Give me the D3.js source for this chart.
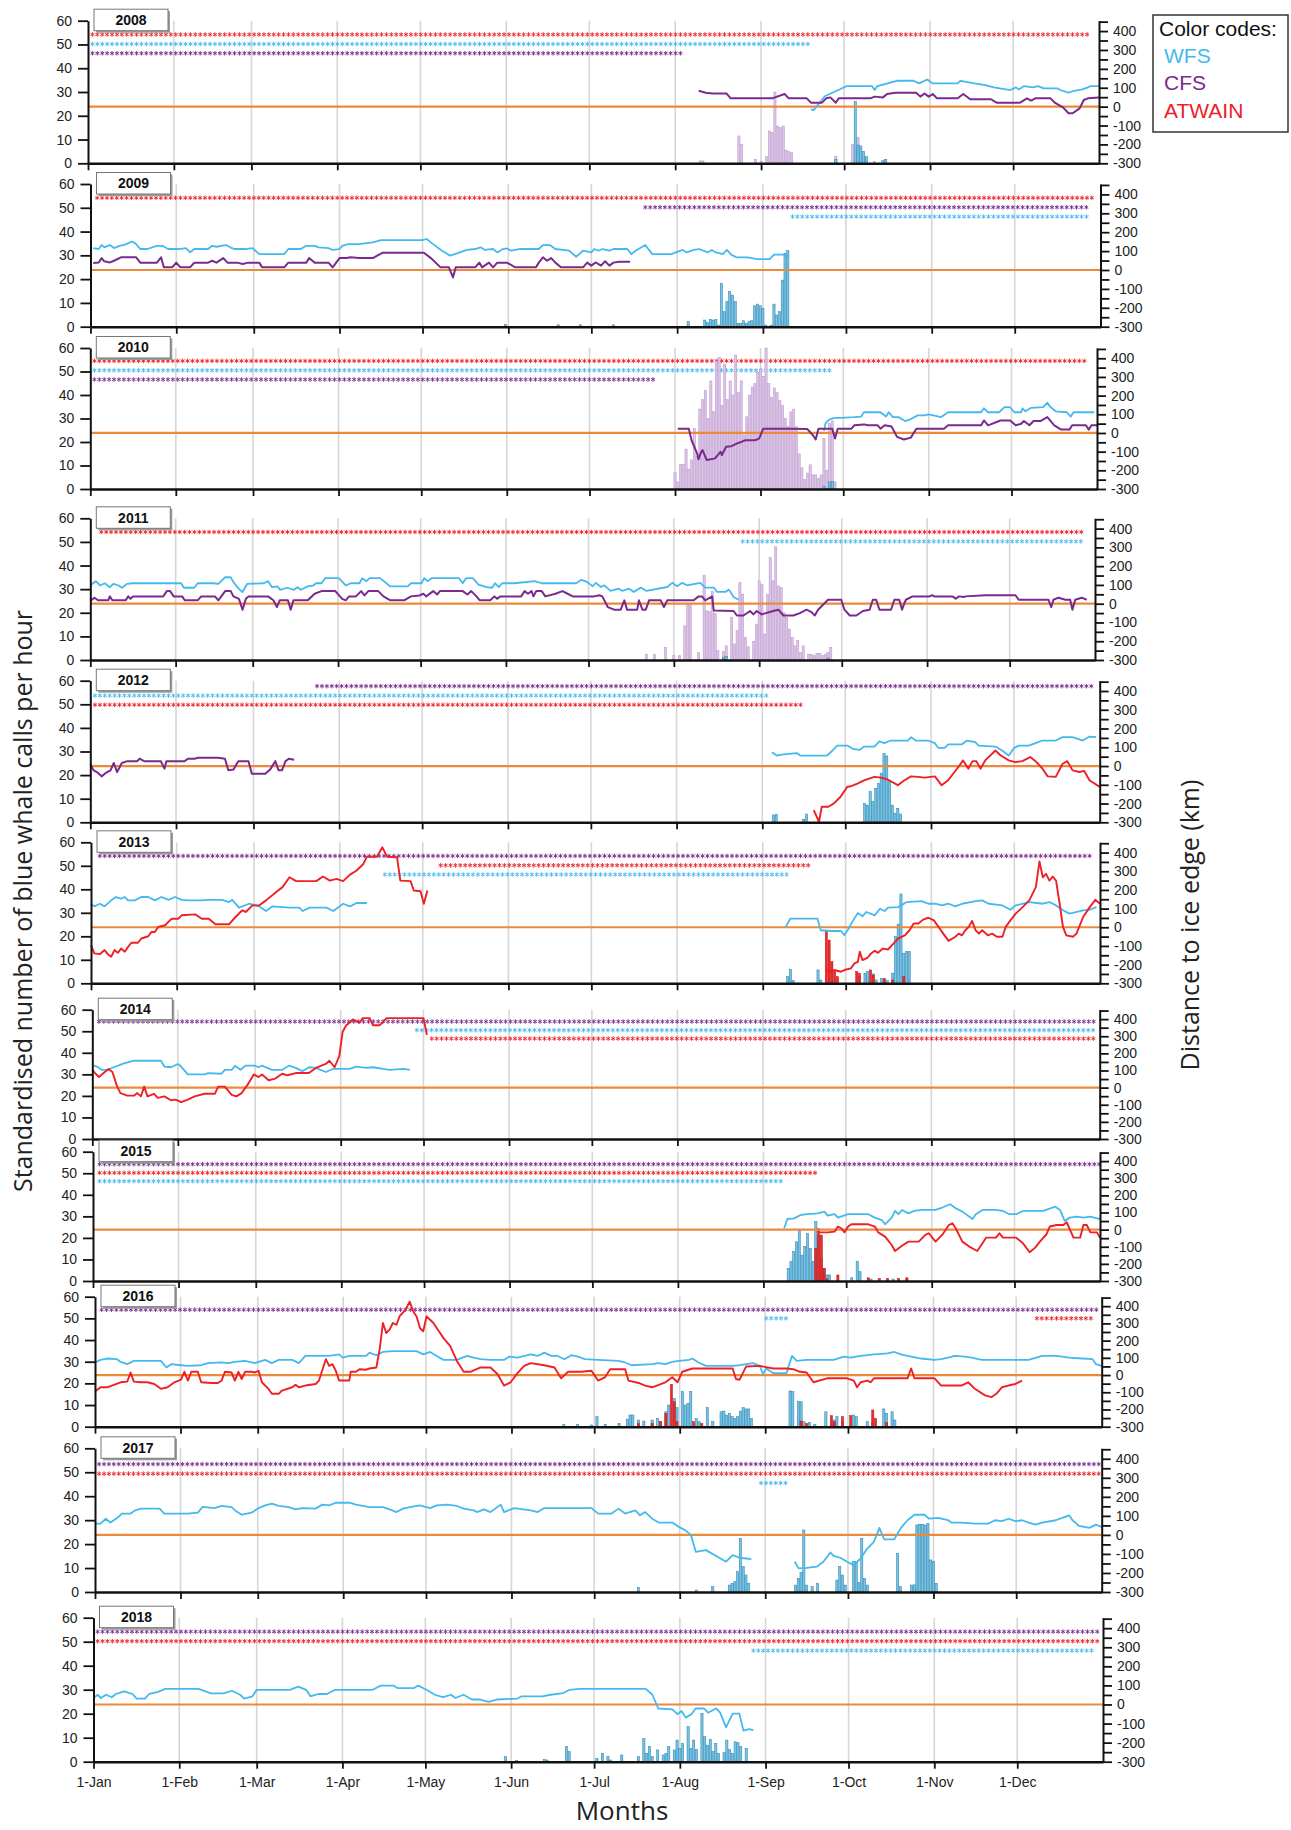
<!DOCTYPE html>
<html>
<head>
<meta charset="utf-8">
<script src="https://cdn.jsdelivr.net/npm/d3@7"></script>
<style>
  body { margin: 0; background: #fff; }
  svg { display: block; font-family: "Liberation Sans", Arial, sans-serif; }
</style>
</head>
<body>
<svg id="chart" width="1291" height="1830"></svg>
<script>
// ---- data (day of year, km to ice edge) / (day of year, calls per hour) ----
var monthStarts = [0, 31, 59, 90, 120, 151, 181, 212, 243, 273, 304, 334];
var monthLabels = ["1-Jan","1-Feb","1-Mar","1-Apr","1-May","1-Jun","1-Jul","1-Aug","1-Sep","1-Oct","1-Nov","1-Dec"];
var leftTicks = [0, 10, 20, 30, 40, 50, 60];
var rightTicks = [-300,-250,-200,-150,-100,-50,0,50,100,150,200,250,300,350,400,450];
var years = ["2008","2009","2010","2011","2012","2013","2014","2015","2016","2017","2018"];

// 2008
var wfs2008 = [[261,-15],[262,-18],[266,55],[274,109],[283,109],[284,88],[285,109],[292,137],[298,137],[300,123],[303,144],[305,123],[314,123],[315,137],[320,123],[324,114],[327,102],[333,88],[335,102],[336,91],[338,109],[341,102],[343,109],[345,97],[350,97],[351,88],[354,74],[356,84],[359,91],[361,102],[362,109],[365,109]];
var cfs2008 = [[220.5,84],[223,74],[225.5,70],[230.5,70],[232,44],[247,44],[251.5,67],[253,44],[259.5,44],[261,21],[265,21],[266.5,44],[268,49],[270,21],[271,44],[282.5,44],[284,53],[287,49],[288.5,67],[291.5,74],[299,74],[300.5,53],[302,70],[303.5,53],[305,67],[306.5,44],[314,44],[316,67],[318.5,39],[326,39],[328,21],[336.5,21],[339,44],[340.5,32],[342,44],[347.5,44],[349,21],[352,-4],[354,-35],[355.5,-35],[358,-9],[359.5,35],[361,44],[365,49]];
var barsCfs2008 = [[221,1],[222,1],[235,11.5],[236,8],[241,1.7],[243,0.7],[245,2.8],[246,13.6],[247,13],[248,30],[249,15.7],[250,15],[251,15.7],[252,5.6],[253,4.9],[254,4.5],[270,3],[276,8],[278,11],[280,2.5],[281,1],[284,0.7]];
var barsWfs2008 = [[270,1.7],[277,26],[278,7.7],[279,7.3],[280,5],[281,2.8],[287,1.1],[288,1.7]];
var stars2008 = [["ATWAIN",1.6,361.6,0],["WFS",1.6,260.8,1],["CFS",1.6,215.5,2]];

// 2009
var wfs2009 = [[1,116],[3,111],[4,132],[5,120],[7,132],[8.5,116],[10.5,128],[12.5,134],[15,151],[16.5,137],[18,111],[20.5,111],[24,128],[26,128],[28,111],[32,111],[34.5,116],[36,93],[37.5,111],[42.5,111],[44,128],[45.5,123],[49,132],[50.5,120],[52,111],[56,111],[58.5,116],[61,84],[70,84],[71.5,111],[76,111],[78,128],[81,128],[82.5,120],[86,116],[87.5,106],[90,111],[91,128],[93,137],[97,137],[102,146],[105,158],[120,158],[121.5,164],[123,146],[127,102],[130,76],[132.5,88],[136,106],[139,111],[141,120],[142.5,106],[145.5,111],[147,93],[149,111],[150.5,114],[152,102],[155,111],[162,111],[163.5,132],[166,132],[168,111],[173,102],[175.5,70],[178,102],[181,93],[182,111],[183.5,102],[185,111],[187.5,102],[189,111],[194,111],[195.5,84],[197,102],[200.5,132],[203,84],[210,84],[211.5,93],[214,106],[215.5,93],[218,106],[220,111],[223,93],[224.5,106],[226,93],[228.5,84],[230,106],[231.5,81],[233.5,67],[237.5,67],[241,58],[245.5,58],[247,81],[250.5,81],[252.5,70]];
var cfs2009 = [[1,37],[3,40],[4,63],[5,46],[7,40],[8.5,49],[11,67],[16.5,67],[18,39],[24,39],[25.5,67],[26.5,14],[29.5,14],[31,39],[32.5,14],[36,14],[37.5,39],[42.5,39],[44,49],[45.5,39],[48,63],[49.5,39],[53,39],[55,32],[57,39],[61,39],[62,14],[70,14],[71.5,39],[78,39],[79,63],[81,39],[86,39],[87.5,14],[90,63],[92.5,63],[94,67],[97,63],[102,63],[105.5,91],[120.5,91],[123,63],[126.5,14],[129.5,14],[131,-39],[132,14],[139,14],[140.5,39],[141.5,14],[144,39],[145.5,14],[147,39],[150.5,39],[153.5,14],[161,14],[162,39],[163.5,67],[165,49],[166.5,63],[168,39],[170,14],[178,14],[179.5,39],[181,23],[182.5,40],[184.5,23],[186,46],[187.5,23],[189,39],[191,44],[195,44]];
var barsWfs2009 = [[150,1],[169,0.8],[177,0.8],[189,0.8],[216,2.1],[222,2.8],[223,1.7],[224,3.1],[225,2.8],[226,3.1],[227,0.7],[228,18.2],[229,6.3],[230,10.5],[231,14.7],[232,13.3],[233,10.5],[234,1.4],[235,1.4],[236,2.5],[237,1.4],[238,2.1],[239,2.5],[240,8.8],[241,9.5],[242,8.8],[243,7.7],[244,0.7],[246,0.7],[247,9.5],[248,4.9],[249,6.3],[250,19.6],[251,30.9],[252,32]];
var stars2009 = [["ATWAIN",2.4,362.3,0],["CFS",200.5,360.8,1],["WFS",253.7,360,2]];

// 2010
var wfs2010 = [[266,11],[266.5,49],[267.5,67],[268.5,76],[270,81],[272,81],[277,85],[279.5,88],[280.5,111],[286.5,111],[288.5,88],[289.5,111],[291,85],[293,85],[295.5,64],[297,71],[300,94],[302.5,94],[304,99],[308.5,85],[311,111],[323,111],[324,132],[325.5,111],[329.5,111],[331.5,138],[333.5,138],[335,111],[337.5,111],[338,132],[339,116],[341,134],[345.5,138],[347,162],[348,141],[350,116],[354,111],[355.5,88],[356.5,111],[364,111]];
var cfs2010 = [[213,23],[217,23],[218,-39],[220,-109],[220.5,-141],[221.5,-101],[222,-92],[223.5,-145],[226.5,-136],[228.5,-101],[229,-118],[230.5,-74],[232.5,-71],[234.5,-56],[236,-48],[237.5,-39],[241,-39],[242.5,-30],[244,23],[254,23],[260,21],[262,-12],[263,-35],[264,23],[269,23],[270,-30],[271,23],[276,23],[277,41],[280.5,46],[282,41],[285.5,41],[286.5,23],[288,41],[290.5,35],[292.5,-21],[295,-35],[297.5,-25],[299.5,23],[309.5,23],[311,41],[323,41],[324,67],[325.5,41],[330,67],[333.5,67],[335.5,41],[337.5,49],[338.5,64],[340.5,41],[342,64],[344.5,64],[347,85],[349.5,41],[352,18],[355,18],[356,41],[361,41],[362,18],[363,41],[365,41]];
var barsCfs2010 = [[212,7],[213,3],[214,10.5],[215,10.5],[216,17],[217,8.5],[218,12.4],[219,25.8],[220,13.8],[221,34],[222,38],[223,42],[224,30],[225,46],[226,33],[227,54.5],[228,56],[229,35.6],[230,53],[231,38],[232,46],[233,40],[234,57],[235,41],[236,46],[237,23],[238,30.7],[239,40],[240,43.4],[241,44.8],[242,49.7],[243,51],[244,48],[245,60],[246,44.8],[247,39],[248,43],[249,41],[250,37.7],[251,35.6],[252,30],[253,26.5],[254,32.8],[255,34],[256,26.5],[257,15],[258,9],[259,4],[260,6.8],[261,10.3],[262,6],[263,6],[264,4.6],[265,6],[266,21.5],[267,8],[268,28],[269,29],[270,3]];
var barsWfs2010 = [[266,1.2],[268,3],[269,3.2]];
var stars2010 = [["ATWAIN",1.5,361,0],["WFS",1.5,268,1],["CFS",1.5,205,2]];

// 2011
var wfs2011 = [[0,97],[1,109],[2,120],[3.5,97],[5.3,109],[7,88],[8.5,106],[10.3,97],[11.5,85],[13.4,106],[15.3,109],[18,109],[33,109],[34,85],[37.8,85],[39,109],[44.6,109],[46.5,106],[49,141],[51,141],[52,115],[54,79],[55.3,62],[57,106],[63,109],[64.6,120],[66,88],[68,92],[69,74],[71.5,85],[74,74],[75.3,88],[76.5,74],[79,92],[81,97],[82,109],[84,109],[85.3,136],[90.3,136],[92.8,97],[94.6,109],[97.8,109],[98.8,136],[100.3,120],[101.5,136],[105.3,136],[109,92],[115.3,92],[116.5,109],[120.3,109],[121.3,136],[122.5,120],[124,136],[134,136],[135.3,109],[136.5,136],[139,136],[141,102],[144,88],[146,85],[147,109],[148.4,88],[149.6,109],[154,109],[161.5,120],[164,109],[176.5,109],[178.4,127],[180.5,116],[182.5,93],[183.7,111],[185.5,89],[186.7,98],[189,68],[192,80],[193.3,68],[195.7,80],[197.5,63],[200,86],[202,68],[209.6,89],[211.4,111],[213.2,93],[215,111],[216.8,98],[221.6,111],[223.4,86],[226.5,86],[227.7,63],[230.7,63],[232,75],[233.7,36],[235.5,21]];
var cfs2011 = [[0,14],[1.5,32],[2.8,18],[6.5,18],[7.1,39],[8,18],[12.8,18],[13.8,39],[14.6,26],[15.5,39],[26.5,39],[27.8,67],[29,67],[30.3,39],[33.4,39],[34.3,18],[39,18],[40.3,39],[45.3,39],[46.5,18],[49,67],[51,67],[52,39],[54,26],[55.3,-32],[56.5,26],[57.5,39],[64.6,39],[66.5,18],[67.8,-18],[68.8,18],[71.8,18],[72.8,-32],[73.8,18],[79,18],[81.5,53],[84,67],[89,67],[91.5,26],[92.8,18],[94,39],[96.5,39],[98.4,67],[99.6,44],[101,67],[104.6,67],[106.5,39],[109,18],[114,18],[116.5,39],[119.6,44],[121,53],[122,39],[124.6,67],[126,49],[127,67],[135.3,67],[137,49],[138.4,67],[140.3,39],[141.5,18],[145.3,18],[146.8,39],[147.8,26],[149,39],[156.5,39],[157.8,67],[159,53],[160.3,67],[161,39],[162,67],[164,67],[165.3,39],[169,53],[171.5,67],[173.4,53],[175.3,39],[183,39],[185,45],[186,39],[188,-18],[190.3,-32],[192.7,-32],[194,18],[195,-32],[198.7,-32],[199.3,18],[200.6,-32],[201.8,-32],[203,18],[207.2,18],[208.4,-18],[209.6,18],[219.2,18],[221,39],[222.2,39],[223.4,18],[225.9,39],[226.5,-36],[233.7,-39],[234.9,-63],[237.3,-63],[239.7,-39],[240.9,-57],[242.1,-39],[243.9,-57],[248.1,-39],[250,-32],[251.8,-63],[255.4,-63],[257.8,-50],[260.2,-32],[262,-45],[263.2,-63],[264.4,-32],[268,21],[272.8,21],[274,-32],[275.9,-63],[278.3,-63],[280.7,-39],[283.1,-32],[284.3,21],[285.5,21],[286.7,-32],[290.9,-32],[292.1,21],[293.9,21],[294.9,-32],[295.7,0],[296.3,21],[298.7,39],[304.8,39],[306,45],[306.6,39],[313.2,39],[314.4,27],[315.6,39],[317.4,36],[318,39],[325.3,45],[336.1,45],[337.3,21],[348.1,21],[349.1,-18],[349.9,21],[351.8,32],[354.2,21],[356,21],[356.8,-32],[357.8,21],[360.2,32],[362,21]];
var barsCfs2011 = [[202,2.5],[205,2.3],[209,5.4],[212,1.8],[214,1.8],[216,14.5],[217,23.7],[218,23.7],[221,3.2],[223,35.9],[224,20.8],[225,20.5],[226,29],[227,19.7],[228,4],[230,3.7],[231,6],[233,18],[234,6.8],[235,12.4],[236,32.8],[237,27.9],[238,9.6],[239,5.6],[241,7.9],[242,15.2],[243,33.5],[244,32],[245,11],[246,27.9],[247,43.4],[248,33.5],[249,47.9],[250,31.4],[251,30.7],[252,20],[253,18],[254,13.1],[255,9.6],[256,6],[257,8.2],[258,3.2],[259,6],[261,2.5],[262,2.3],[263,1.8],[264,2.8],[265,2.8],[266,1.8],[267,2.5],[268,3.2],[269,5.4]];
var barsWfs2011 = [[230,1],[231,1.5],[268,0.8]];
var stars2011 = [["ATWAIN",4,361,0],["WFS",237,360,1]];

// 2012
var cfs2012 = [[0,9],[1.2,-23],[2.4,-32],[4.1,-55],[5.6,-37],[7.3,-23],[8.5,16],[9.7,-32],[11.4,16],[13.4,26],[17,26],[17.8,39],[19.5,26],[25.5,26],[26.8,-14],[27.5,26],[34.1,26],[35.3,39],[37.7,39],[38.9,44],[46.2,44],[48.7,39],[49.9,-23],[51.8,-19],[53.5,26],[57.2,26],[58.4,-41],[63.3,-41],[65,-19],[66.9,26],[68.1,-23],[69.3,-23],[70.6,26],[71.8,39],[73.7,34]];
var wfs2012 = [[246.5,74],[248.2,56],[250.6,62],[255.5,69],[256.7,56],[266.4,56],[268.4,83],[270.1,109],[273.7,109],[275.7,92],[278.1,86],[279.8,104],[283.5,104],[285.4,132],[287.1,122],[289.5,136],[295.6,136],[296.8,154],[298.5,136],[302.9,136],[305.4,122],[306.6,97],[309,97],[310.2,115],[315.1,115],[317,136],[320,127],[321.2,109],[327.3,104],[329.7,83],[332.1,56],[334.1,97],[335.8,109],[339.4,109],[341.8,122],[344.3,136],[349.1,136],[351.6,154],[355.2,154],[358.9,136],[361.3,157],[363.7,154]];
var atwain2012 = [[261.6,-235],[263.5,-297],[264.5,-217],[266.9,-217],[268.9,-199],[271.3,-164],[273.7,-111],[274.9,-108],[277.4,-94],[279.8,-76],[283.5,-58],[285.9,-62],[288.3,-72],[292,-102],[294.4,-76],[296.8,-55],[299.3,-58],[301.7,-62],[305.4,-55],[307.8,-102],[310.2,-76],[313.9,-5],[315.6,30],[317.5,-14],[319,26],[320.4,26],[321.9,-14],[323.6,30],[327.3,83],[329.2,56],[332.1,30],[334.5,21],[337,26],[339.9,48],[341.8,26],[344.3,-14],[346.2,-55],[349.1,-58],[351.6,12],[353.3,26],[355.2,-23],[357.7,-32],[359.4,-26],[361.3,-76],[365,-111]];
var barsWfs2012 = [[247,3.1],[248,3.4],[258,1.3],[259,3.5],[280,8],[281,7.3],[282,13],[283,8.8],[284,14.4],[285,16.5],[286,20.8],[287,29.2],[288,28.1],[289,17.9],[290,7.3],[291,3.8],[292,5.9],[293,3.5]];
var stars2012 = [["CFS",82,362,0],["WFS",1.7,245,1],["ATWAIN",1.7,258,2]];

// 2013
var wfs2013 = [[0,126],[1.2,112],[3.2,126],[4.9,112],[7.3,144],[9,162],[10.9,153],[12.2,162],[13.4,144],[15.8,144],[18.2,162],[20.7,162],[23.1,144],[25.5,162],[28,147],[30.4,162],[32.8,147],[35.3,144],[40.1,144],[42.6,147],[47.4,147],[49.9,135],[51.1,147],[53.5,105],[57.2,126],[60.8,112],[63.3,87],[65.7,112],[71.8,105],[75.4,105],[76.6,87],[79.1,105],[85.2,105],[87.6,87],[90,112],[91.2,126],[93.7,112],[96.1,130],[99.8,130],[100,null],[251.3,2],[253,46],[262.8,46],[264,-16],[267.6,-20],[271.3,-20],[272.5,-43],[273.7,-16],[275.7,37],[277.4,76],[279.1,59],[280.5,82],[283.5,64],[285.4,99],[287.1,87],[288.3,105],[292,108],[295.1,135],[300.5,140],[302.9,126],[305.4,126],[307.8,117],[310.2,126],[312.7,112],[315.1,126],[320,140],[322.4,144],[324.8,126],[329.7,117],[332.6,94],[334.5,117],[339.4,135],[344.3,126],[346.7,135],[349.1,117],[351.6,91],[354,73],[358.9,91],[361.3,94],[363.7,108]];
var atwain2013 = [[0,-96],[1.2,-140],[3.2,-144],[4.9,-122],[6.1,-144],[7.3,-158],[8.5,-122],[9.7,-137],[10.9,-114],[12.2,-131],[13.4,-105],[14.6,-83],[17,-83],[18.2,-60],[20.7,-48],[21.9,-25],[23.1,-25],[24.3,2],[26.8,11],[29.2,46],[31.6,46],[32.8,64],[37.7,69],[40.1,46],[42.6,46],[45,16],[49.9,16],[52.3,55],[54.7,91],[56,82],[58.4,117],[60.8,117],[63.3,144],[66.9,188],[69.3,215],[71.8,268],[74.2,247],[81.5,247],[83.9,272],[86.4,250],[88.8,259],[91.2,247],[93.7,282],[96.1,304],[98.5,339],[99.8,378],[103.4,378],[105.4,428],[107.1,378],[110.7,375],[111.9,250],[115.6,247],[116.8,197],[119.2,193],[120.4,126],[121.7,197],[122,null],[265.9,-229],[267.6,-238],[268.9,-229],[271.3,-238],[272.5,-229],[274.9,-220],[276.2,-193],[277.4,-185],[278.1,-131],[279.1,-176],[281,-162],[282.2,-140],[283.5,-126],[284.7,-137],[286.4,-114],[288.3,-119],[290.3,-87],[292,-60],[294.4,-43],[296.1,-16],[297.6,20],[299.3,20],[301,41],[302.9,51],[304.9,37],[306.6,2],[308.3,-34],[310.2,-73],[312.7,-51],[313.9,-34],[315.1,-43],[316.3,-16],[317.5,2],[318.7,34],[320,-16],[321.2,-34],[322.4,-16],[324.4,-43],[326,-34],[327.7,-51],[329.7,-51],[330.9,2],[332.6,37],[334.5,73],[337,108],[339.4,144],[341.8,215],[343.1,353],[344.3,268],[345.5,286],[346.7,250],[347.9,272],[349.1,250],[350.4,126],[351.6,2],[352.8,-43],[355.2,-51],[356.5,-34],[358.9,55],[361.3,108],[363.3,147],[365,126]];
var barsWfs2013 = [[252,2.8],[253,6],[254,1.1],[263,5.7],[264,1.4],[278,2.8],[280,4.3],[281,5],[283,4],[284,1.4],[286,2.1],[288,1.1],[290,4.3],[291,19.9],[292,25.2],[293,38],[294,12.8],[295,13.5],[296,13.5]];
var barsAtwain2013 = [[266,22],[267,18.4],[268,9.2],[269,5],[270,2.8],[277,5],[278,4.3],[282,5.7],[283,3.5],[287,2.1],[290,1.4],[294,2.8]];
var stars2013 = [["CFS",3.2,361.3,0],["ATWAIN",126.5,260.3,1],["WFS",106.3,253,2]];

// 2014
var wfs2014 = [[0.5,128],[1.7,123],[3.4,104],[5.4,104],[7.8,119],[11.5,142],[15.1,157],[24.9,157],[26.1,123],[28.5,119],[31,138],[32.2,123],[34.6,77],[40.7,77],[42,85],[46.8,81],[48,104],[50.5,104],[51.7,128],[53.7,104],[55.4,128],[59,128],[60.2,119],[61.5,128],[65.1,104],[68.8,104],[71.2,128],[73.7,115],[76.1,96],[78.5,119],[81,115],[84.6,91],[87.1,109],[93.2,109],[95.6,123],[99.3,115],[101.7,119],[105.4,109],[107.8,104],[112.7,109],[115.1,104]];
var atwain2014 = [[0,104],[1,85],[2.4,62],[4.1,85],[5.9,109],[7.3,91],[9,6],[10.2,-32],[12.7,-47],[15.1,-47],[16.3,-32],[17.6,-51],[18.8,6],[20,-51],[22.4,-36],[23.7,-60],[26.1,-51],[28.5,-74],[30.2,-70],[32.2,-85],[34.6,-70],[37.1,-51],[40.7,-36],[44.4,-36],[45.6,6],[48,6],[50.5,-42],[52.2,-51],[54.1,-32],[56.6,25],[58.5,77],[60.2,62],[61.5,77],[63.9,43],[66.3,53],[68.8,81],[70.7,72],[73.7,85],[78.5,85],[81,115],[84.6,138],[85.9,157],[87.8,119],[89.5,185],[90.7,326],[92,364],[93.2,379],[94.4,398],[96.8,379],[98,406],[100.5,406],[101.7,364],[104.1,364],[106.6,406],[120,406],[121.2,308]];
var stars2014 = [["CFS",2.4,364,0],["WFS",117.6,364,1],["ATWAIN",123,363.4,2]];

// 2015
var wfs2015 = [[250.5,8],[251.7,62],[254.1,66],[256.6,86],[259,90],[262.7,95],[265.1,105],[266.3,82],[268.8,90],[270,70],[273.7,90],[281,90],[283.4,70],[285.9,56],[287.1,31],[289.5,70],[290.7,109],[292,90],[293.2,115],[295.6,95],[297.6,109],[300.5,115],[305.4,115],[307.8,129],[310.7,148],[312.7,125],[315.1,105],[318.8,62],[320,90],[322.4,115],[327.3,115],[329.8,109],[332.2,90],[334.6,90],[337.1,109],[344.4,109],[348.8,134],[350.5,115],[352.2,51],[354.1,70],[356.6,76],[359,70],[361.5,76],[365,62]];
var atwain2015 = [[263.4,-16],[266.3,-16],[268.8,-12],[270,18],[271.2,8],[272.4,-16],[273.7,18],[274.9,31],[281,31],[283.4,18],[284.6,-16],[287.1,-41],[289.5,-90],[290.7,-125],[293.2,-94],[295.6,-70],[299.3,-70],[301.7,-31],[302.9,-21],[305.4,-70],[307.8,-31],[310.2,27],[311.5,37],[312.7,8],[315.1,-70],[317.6,-99],[320.5,-125],[322.4,-80],[323.7,-47],[327.3,-47],[328.5,-21],[329.8,-47],[334.6,-47],[337.1,-80],[339.5,-132],[341.5,-105],[343.2,-70],[345.6,-27],[346.8,18],[349.3,27],[351.7,27],[352.9,43],[355.4,-47],[357.8,-47],[359,27],[360.2,27],[361.5,-16],[363.9,-16],[365,-47]];
var barsWfs2015 = [[252,5.9],[253,9],[254,13.6],[255,18.2],[256,23.6],[257,12],[258,16],[259,22.1],[260,15.1],[261,9],[262,27.5],[263,21.3],[264,10.4],[265,5.9],[266,2.8],[267,2.8],[275,1.5],[277,9],[278,4.3],[282,0.9],[290,0.9],[295,0.9]];
var barsAtwain2015 = [[262,15.1],[263,24.4],[264,21.3],[265,5.9],[266,1],[270,2.8],[281,1.5],[285,1.2],[288,1.2],[292,1.2],[295,1.5]];
var stars2015 = [["CFS",2.4,365,0],["ATWAIN",2.4,262.7,1],["WFS",2.4,249.3,2]];

// 2016
var wfs2016 = [[0,73],[2,88],[4.4,96],[8,92],[9.3,76],[11.7,63],[14.1,82],[23.9,82],[25.9,44],[27.6,63],[31.2,57],[33.7,53],[38.5,57],[41,69],[45.9,73],[48.3,69],[50.7,76],[54.4,82],[58,69],[59.3,76],[61.7,88],[64.1,69],[66.6,88],[71.5,88],[73.9,69],[76.3,111],[84.9,111],[88.5,120],[89.8,101],[92.2,111],[98.3,111],[99.5,130],[102,115],[104.4,134],[108,139],[116.6,139],[119,120],[121.5,134],[123.9,111],[126.3,88],[131.2,88],[134.9,111],[137.3,101],[139.8,92],[143.4,88],[148.3,88],[150.2,107],[153.2,101],[158,120],[160.5,111],[162.9,130],[165.4,111],[167.8,111],[170.2,92],[172.7,115],[175.1,107],[177.6,92],[182.4,88],[189.8,82],[192.2,73],[194.6,57],[202,63],[204.4,69],[206.8,63],[209.3,76],[211.7,82],[215.4,88],[216.6,96],[218.5,76],[221.5,53],[231.2,53],[233.7,57],[236.1,63],[238.5,69],[241,53],[242.2,6],[243.4,38],[245.9,11],[250.7,11],[252.7,111],[254.4,82],[258,88],[267.8,88],[271.5,107],[273.9,101],[277.6,111],[282.4,120],[287.3,126],[289.8,134],[292.2,120],[294.6,111],[299.5,96],[304.4,88],[306.8,92],[309.3,101],[311.7,111],[315.4,107],[317.8,101],[321.5,88],[338.5,88],[343.4,111],[348.3,111],[350.7,107],[353.2,101],[358,96],[361.7,92],[362.9,63],[364.9,53]];
var atwain2016 = [[0,-96],[2,-71],[4.4,-71],[9.3,-42],[11.7,-38],[12.9,15],[14.1,-38],[16.6,-42],[19,-42],[21.5,-52],[23.9,-80],[26.3,-71],[28.8,-42],[31.2,-27],[32.4,19],[33.7,-32],[34.9,19],[37.3,19],[38.5,-42],[42.2,-46],[44.6,-46],[45.9,-32],[47.1,19],[49.5,15],[50.7,-32],[52,19],[53.2,-23],[54.4,19],[56.8,19],[58,15],[59.3,25],[60.5,-42],[62.9,-80],[64.1,-109],[66.6,-109],[67.8,-90],[71.5,-71],[72.7,-57],[73.9,-71],[76.3,-61],[80,-52],[81.2,-32],[83.7,92],[84.9,53],[86.1,63],[87.3,25],[88.5,-32],[92.2,-32],[92.7,19],[94.6,19],[95.9,34],[98.3,31],[99.5,38],[102,44],[103.2,149],[104.4,302],[105.6,244],[106.8,264],[108,302],[109.3,292],[110.5,344],[111.7,363],[112.9,388],[114.1,426],[115.4,369],[116.6,340],[117.8,273],[119,254],[120.2,340],[121.5,321],[122.7,302],[123.9,273],[126.3,216],[128.8,168],[131.2,82],[133.7,19],[136.1,19],[139.8,44],[143.4,44],[145.9,6],[148.3,-61],[150.7,-42],[153.2,11],[155.6,53],[158,69],[162.9,57],[166.6,44],[169,-19],[171.5,19],[176.3,19],[180,25],[182.4,-32],[184.9,-13],[186.8,34],[192.2,34],[193.4,-32],[197.1,-46],[199.5,-61],[202,-71],[204.4,-57],[206.8,-42],[209.3,-13],[211.2,-42],[212.9,19],[216.6,38],[231.2,38],[232.4,-23],[233.7,-27],[236.1,50],[241,53],[245.9,38],[250.7,38],[253.2,34],[255.6,19],[258,15],[260.5,-42],[265.4,-19],[272.7,-19],[275.1,-32],[276.3,-71],[277.6,-42],[280,-32],[281.2,-42],[282.4,-19],[294.6,-19],[295.9,38],[297.1,-19],[304.4,-19],[306.8,-61],[314.1,-61],[316.6,-42],[319,-80],[322.7,-118],[325.1,-128],[326.8,-109],[328.8,-71],[331.2,-61],[333.7,-52],[336.1,-32]];
var barsWfs2016 = [[170,1],[175,1],[180,0.8],[182,4.6],[185,1.1],[190,1.5],[193,3.5],[194,5.4],[195,5.4],[197,3.1],[199,2.6],[202,3.1],[204,3.8],[205,2.3],[207,6.9],[208,10],[210,13],[211,8.8],[213,16.2],[214,10],[215,10.8],[216,16.2],[218,3.8],[219,2.3],[222,8.8],[224,2.3],[227,6.9],[228,7.2],[229,5.4],[230,6.2],[231,4.6],[232,3.8],[233,4.6],[234,7.2],[235,8.8],[236,8.2],[237,8.2],[238,3.8],[252,16.5],[253,16.2],[255,11.8],[256,11.5],[257,2.3],[259,2],[261,1.1],[265,6.9],[267,0.8],[268,3.1],[269,4.6],[271,2.3],[275,5.4],[276,4.6],[280,2.3],[282,2],[286,8.2],[287,6.2],[289,6.9],[290,3.1]];
var barsAtwain2016 = [[197,1.5],[202,1.5],[205,2.3],[207,6.2],[209,19.5],[210,11.5],[211,2.3],[217,2.3],[220,1.5],[256,2.6],[258,1.5],[267,5.1],[268,2.3],[271,4.6],[274,5.1],[282,7.7],[283,3.8],[287,2]];
var stars2016 = [["CFS",2.4,364,0],["WFS",243.4,252,1],["ATWAIN",341.5,362.4,1]];

// 2017
var wfs2017 = [[0,59],[2,59],[3.9,85],[5.6,65],[8,89],[9.8,112],[12.9,112],[14.6,129],[16.6,138],[23.4,138],[25.1,112],[33.7,112],[37.3,117],[39,147],[43.4,141],[45.9,152],[49.5,146],[51.2,124],[53.2,106],[56.8,117],[59.3,141],[61.7,155],[64.1,164],[66.6,152],[70.2,146],[72.7,134],[75.1,141],[80,138],[82.4,159],[84.9,155],[87.3,169],[92.2,169],[94.6,159],[99.5,146],[104.4,146],[106.8,134],[109.3,120],[111.7,138],[114.1,146],[117.8,155],[121.5,141],[123.9,155],[127.6,159],[131.2,152],[133.7,138],[137.3,129],[138.5,120],[141,134],[143.4,120],[147.1,159],[148.3,120],[152,141],[158,129],[160.5,120],[162.9,141],[180,141],[182.4,112],[187.3,112],[189.8,138],[192.2,112],[195.9,129],[197.6,103],[199.5,120],[202,85],[204.4,65],[209.3,65],[211.7,42],[214.1,24],[216.1,-2],[217.8,-89],[221.5,-80],[225.1,-110],[228.8,-141],[231.2,-106],[233.7,-120],[236.1,-124],[238,-127],[245,null],[253.7,-141],[255.1,-176],[258,-173],[261.7,-167],[264.1,-141],[266.6,-92],[267.8,-110],[270.2,-120],[272.7,-141],[275.1,-159],[277.6,-124],[280,-72],[282.4,-37],[284.4,37],[286.1,-23],[289.8,-23],[292.2,37],[294.6,77],[297.1,106],[300.7,106],[302.4,85],[305.6,89],[309.3,77],[310.5,65],[314.1,65],[319,59],[323.9,59],[326.3,77],[328.8,72],[331.2,85],[333.7,72],[336.1,77],[338.5,65],[341,54],[343.4,65],[348.3,77],[350.7,89],[353.2,103],[354.4,77],[356.8,47],[360.5,37],[362.9,54],[364.9,42]];
var barsWfs2017 = [[197,1.8],[218,0.8],[224,2.2],[230,2.9],[231,3.6],[232,4.3],[233,8.5],[234,22.4],[235,10.6],[236,7.1],[237,3.6],[254,2.9],[255,5.7],[256,8.2],[257,25.9],[258,2.9],[260,2.2],[262,3.6],[269,5],[270,10.6],[271,7.1],[272,2.9],[275,12.7],[276,12.7],[277,4],[278,22.4],[279,5.7],[280,2.9],[291,16.2],[292,2.2],[296,2.9],[297,3],[298,28],[299,28.3],[300,28.3],[301,28],[302,28.7],[303,13.4],[304,12.7],[305,3.6]];
var stars2017 = [["CFS",1.5,364,0],["ATWAIN",1.5,364,1],["WFS",241.5,251.2,2]];

// 2018
var wfs2018 = [[0,34],[1.5,51],[2.7,34],[4.5,51],[6.6,38],[8.1,55],[11.1,69],[14.1,55],[15.6,31],[18.6,31],[20.1,55],[23.1,65],[26,82],[38,82],[42.5,58],[47,58],[50,72],[53,51],[54.5,31],[57.5,43],[59,77],[71,77],[74,94],[76.9,77],[78.4,43],[81.4,55],[84.4,55],[87.4,77],[100.9,77],[103.9,99],[108.4,99],[109.9,86],[115.9,86],[117.4,99],[120.4,77],[123.4,51],[126.3,38],[129.3,51],[130.8,34],[133.8,51],[136.8,26],[139.8,26],[142.8,14],[145.8,26],[153.3,31],[154.8,43],[162.3,43],[165.3,51],[169.8,60],[172.2,77],[175.7,82],[199.7,82],[202.1,51],[204.2,-21],[209.3,-26],[211.1,-51],[212.6,-34],[214.1,-69],[216.2,-51],[217.7,-21],[220.7,-21],[222.2,-43],[225.1,-21],[226.6,-43],[228.7,-120],[231.1,-48],[233.5,-48],[235,-137],[237.1,-129],[238.6,-134]];
var barsWfs2018 = [[149,2.1],[153,0.4],[163,1],[164,0.7],[171,6.3],[172,4.2],[182,1.4],[184,3.5],[186,2.1],[187,0.7],[191,2.8],[197,2.1],[199,9.7],[200,3.5],[201,6.3],[202,2.1],[204,4.9],[206,2.8],[207,3.5],[208,6.3],[210,4.9],[211,9],[212,5.6],[213,7.6],[215,14.6],[216,5.6],[217,9],[218,5.1],[220,20.1],[221,10.4],[222,6.9],[223,9.3],[224,4.2],[225,7.6],[226,3.5],[228,3.8],[229,9],[230,5],[231,3.5],[232,8.3],[233,7.9],[234,6.3],[236,5.6]];
var stars2018 = [["CFS",1.5,364.4,0],["ATWAIN",1.5,364.4,1],["WFS",238.6,362,2]];

// ---- assemble ----
var panels = [
  {wfs: wfs2008, cfs: cfs2008, atwain: null, bars: [[barsCfs2008,"CFS"],[barsWfs2008,"WFS"]], stars: stars2008},
  {wfs: wfs2009, cfs: cfs2009, atwain: null, bars: [[barsWfs2009,"WFS"]], stars: stars2009},
  {wfs: wfs2010, cfs: cfs2010, atwain: null, bars: [[barsCfs2010,"CFS"],[barsWfs2010,"WFS"]], stars: stars2010},
  {wfs: wfs2011, cfs: cfs2011, atwain: null, bars: [[barsCfs2011,"CFS"],[barsWfs2011,"WFS"]], stars: stars2011},
  {wfs: wfs2012, cfs: cfs2012, atwain: atwain2012, bars: [[barsWfs2012,"WFS"]], stars: stars2012},
  {wfs: wfs2013, cfs: null, atwain: atwain2013, bars: [[barsWfs2013,"WFS"],[barsAtwain2013,"ATWAIN"]], stars: stars2013},
  {wfs: wfs2014, cfs: null, atwain: atwain2014, bars: [], stars: stars2014},
  {wfs: wfs2015, cfs: null, atwain: atwain2015, bars: [[barsWfs2015,"WFS"],[barsAtwain2015,"ATWAIN"]], stars: stars2015},
  {wfs: wfs2016, cfs: null, atwain: atwain2016, bars: [[barsWfs2016,"WFS"],[barsAtwain2016,"ATWAIN"]], stars: stars2016},
  {wfs: wfs2017, cfs: null, atwain: null, bars: [[barsWfs2017,"WFS"]], stars: stars2017},
  {wfs: wfs2018, cfs: null, atwain: null, bars: [[barsWfs2018,"WFS"]], stars: stars2018}
];

// panel frames: top, bottom, left, right, star row shift
var frames = [
  [20.7, 163.3, 88, 1099, 0],
  [184, 326.7, 90.5, 1100.5, 0],
  [348, 489, 90.3, 1097, 0.3],
  [518.3, 660, 90.3, 1095, 0],
  [680.7, 822.3, 90.3, 1099.7, 3.5],
  [842.3, 983.3, 91, 1100, 0],
  [1009.7, 1139, 92.3, 1099.7, 0.3],
  [1151.7, 1281, 93, 1100, 0],
  [1296.7, 1426.7, 95, 1101.7, -0.2],
  [1448.3, 1592, 95, 1101.7, -0.8],
  [1617.7, 1761.7, 93.5, 1103, 0]
];

var lineColor = {WFS: "#45b9ee", CFS: "#7a2a8c", ATWAIN: "#ee2026"};
var barFill = {WFS: "#72c5ea", CFS: "#dcc4e6", ATWAIN: "#ec2a2a"};
var barStroke = {WFS: "#2c7aa0", CFS: "#b893c9", ATWAIN: "#c01a1a"};
var slotL = [54.2, 50.2, 46.3];
var titleFont = "'Open Sans', 'Noto Sans', sans-serif";

var svg = d3.select("#chart");
svg.append("rect").attr("width", 1291).attr("height", 1830).attr("fill", "#fff");

function asterisks(x0, x1, cy, step, r) {
  var s = "", c = Math.cos(Math.PI / 6) * r, h = r / 2;
  for (var cx = x0; cx <= x1 + 0.01; cx += step) {
    s += "M" + cx + "," + (cy - r) + "L" + cx + "," + (cy + r);
    s += "M" + (cx - c) + "," + (cy - h) + "L" + (cx + c) + "," + (cy + h);
    s += "M" + (cx - c) + "," + (cy + h) + "L" + (cx + c) + "," + (cy - h);
  }
  return s;
}

panels.forEach(function (p, i) {
  var f = frames[i], top = f[0], bottom = f[1], left = f[2], right = f[3], shift = f[4];
  var x = d3.scaleLinear().domain([0, 365]).range([left, right]);
  var yL = d3.scaleLinear().domain([0, 60]).range([bottom, top]);
  var yR = d3.scaleLinear().domain([-300, 455]).range([bottom, top]);
  var g = svg.append("g").attr("class", "panel");

  // month grid
  g.append("g").selectAll("line").data(monthStarts.slice(1)).join("line")
    .attr("x1", function (d) { return x(d); }).attr("x2", function (d) { return x(d); })
    .attr("y1", top).attr("y2", bottom)
    .attr("stroke", "#d6d6d6").attr("stroke-width", 1.6);

  // coverage rows of asterisks
  g.append("g").selectAll("path").data(p.stars).join("path")
    .attr("d", function (d) { return asterisks(x(d[1]), x(d[2]), yL(slotL[d[3]] + shift), 4.9, 2.3); })
    .attr("fill", "none")
    .attr("stroke", function (d) { return lineColor[d[0]]; })
    .attr("stroke-width", 0.9);

  // call rate bars
  p.bars.forEach(function (b) {
    var key = b[1];
    g.append("g").selectAll("rect").data(b[0]).join("rect")
      .attr("x", function (d) { return x(d[0]) - 1.1; })
      .attr("width", 2.2)
      .attr("y", function (d) { return yL(Math.min(d[1], 60)); })
      .attr("height", function (d) { return bottom - yL(Math.min(d[1], 60)); })
      .attr("fill", barFill[key])
      .attr("stroke", barStroke[key])
      .attr("stroke-width", 0.5);
  });

  // ice edge (0 km)
  g.append("line").attr("x1", left).attr("x2", right)
    .attr("y1", yR(0)).attr("y2", yR(0))
    .attr("stroke", "#ec8a3c").attr("stroke-width", 2.2);

  // distance lines
  var line = d3.line()
    .defined(function (d) { return d[1] !== null; })
    .x(function (d) { return x(d[0]); })
    .y(function (d) { return yR(d[1]); });
  [["wfs", "WFS", 1.8], ["cfs", "CFS", 2], ["atwain", "ATWAIN", 1.9]].forEach(function (s) {
    if (!p[s[0]]) return;
    g.append("path").datum(p[s[0]])
      .attr("d", line)
      .attr("fill", "none")
      .attr("stroke", lineColor[s[1]])
      .attr("stroke-width", s[2])
      .attr("stroke-linejoin", "round");
  });

  // axes
  var ax = g.append("g").attr("transform", "translate(" + left + ",0)")
    .call(d3.axisLeft(yL).tickValues(leftTicks).tickSize(10).tickSizeOuter(0).tickPadding(6));
  var ar = g.append("g").attr("transform", "translate(" + right + ",0)")
    .call(d3.axisRight(yR).tickValues(rightTicks).tickSize(9).tickSizeOuter(0).tickPadding(5)
      .tickFormat(function (d) { return d % 100 === 0 ? String(d) : ""; }));
  var ab = g.append("g").attr("transform", "translate(0," + bottom + ")")
    .call(d3.axisBottom(x).tickValues(monthStarts).tickSize(7).tickSizeOuter(0).tickPadding(8)
      .tickFormat(function (d, j) { return i === panels.length - 1 ? monthLabels[j] : ""; }));
  [ax, ar, ab].forEach(function (a) {
    a.attr("font-family", "'Liberation Sans', Arial, sans-serif").attr("font-size", 14);
    a.select(".domain").attr("stroke", "#111").attr("stroke-width", 2);
    a.selectAll(".tick line").attr("stroke", "#111").attr("stroke-width", 1.8);
    a.selectAll(".tick text").attr("fill", "#222");
  });
  ab.select(".domain").attr("stroke-width", 2.4);

  // year label box
  var bx = left + 6, by = top - 11.5;
  g.append("rect").attr("x", bx + 2).attr("y", by + 2).attr("width", 74).attr("height", 21.5).attr("fill", "#9c9c9c");
  g.append("rect").attr("x", bx).attr("y", by).attr("width", 74).attr("height", 21.5)
    .attr("fill", "#fff").attr("stroke", "#777").attr("stroke-width", 1);
  g.append("text").attr("x", bx + 37).attr("y", by + 15.8).attr("text-anchor", "middle")
    .attr("font-size", 14).attr("font-weight", "bold").attr("fill", "#111").text(years[i]);
});

// axis titles
svg.append("text").attr("transform", "translate(32,901) rotate(-90)")
  .attr("text-anchor", "middle").attr("font-family", titleFont).attr("font-size", 25).attr("fill", "#222")
  .text("Standardised number of blue whale calls per hour");
svg.append("text").attr("transform", "translate(1199,925) rotate(-90)")
  .attr("text-anchor", "middle").attr("font-family", titleFont).attr("font-size", 25).attr("fill", "#222")
  .text("Distance to ice edge (km)");
svg.append("text").attr("x", 622).attr("y", 1820).attr("text-anchor", "middle")
  .attr("font-family", titleFont).attr("font-size", 26).attr("fill", "#222").text("Months");

// legend
var lg = svg.append("g");
lg.append("rect").attr("x", 1153).attr("y", 15).attr("width", 135).attr("height", 117)
  .attr("fill", "#fff").attr("stroke", "#333").attr("stroke-width", 1.5);
lg.append("text").attr("x", 1159).attr("y", 36).attr("font-size", 21).attr("fill", "#111").text("Color codes:");
[["WFS", 63], ["CFS", 90], ["ATWAIN", 118]].forEach(function (d) {
  lg.append("text").attr("x", 1164).attr("y", d[1]).attr("font-size", 21)
    .attr("fill", lineColor[d[0]]).text(d[0]);
});
</script>
</body>
</html>
